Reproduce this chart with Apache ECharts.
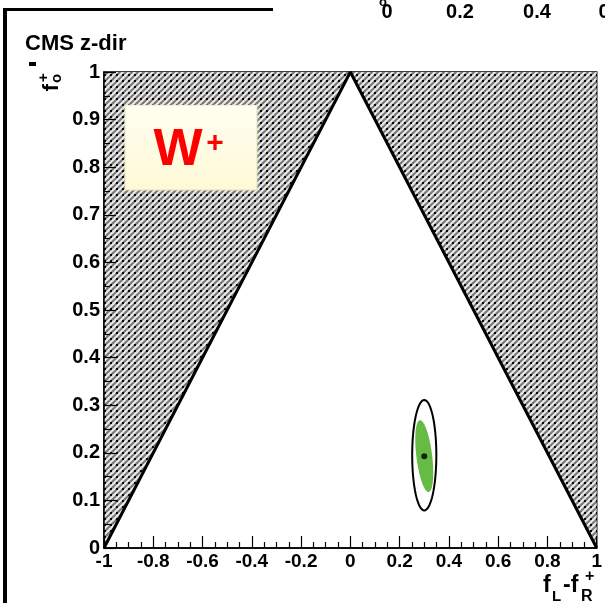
<!DOCTYPE html>
<html>
<head>
<meta charset="utf-8">
<script src="https://cdn.jsdelivr.net/npm/echarts@6/dist/echarts.min.js"></script>
<style>
  html, body { margin: 0; padding: 0; background: #fff; }
  #main { width: 605px; height: 603px; }
</style>
</head>
<body>
<div id="main"></div>
<script>
// 数据：物理允许区域外的阴影三角形、三角形边界、拟合结果
var leftHatch = [[-1, 0], [-1, 1], [0, 1]];
var rightHatch = [[0, 1], [1, 1], [1, 0]];
var triangleEdge = [[-1, 0], [0, 1], [1, 0]];
var fitPoint = [[0.30, 0.193]];
// cx, cy, rx, ry, tilt(deg)
var outerContour = [[0.30, 0.195, 0.049, 0.116, 0]];
var innerContour = [[0.30, 0.193, 0.032, 0.076, -7]];
var topTickLabels = ['0', '0.2', '0.4', '0'];

var myChart = echarts.init(document.getElementById('main'));

function makeHatch() {
    var c = document.createElement('canvas');
    c.width = 6; c.height = 6;
    var g = c.getContext('2d');
    g.fillStyle = '#ececec';
    g.fillRect(0, 0, 6, 6);
    g.strokeStyle = '#7a7a7a';
    g.lineWidth = 2.2;
    g.beginPath(); g.moveTo(-1, 7); g.lineTo(7, -1); g.stroke();
    g.beginPath(); g.moveTo(-1, 1); g.lineTo(1, -1); g.stroke();
    g.beginPath(); g.moveTo(5, 7); g.lineTo(7, 5); g.stroke();
    g.fillStyle = '#0a0a0a';
    g.fillRect(2, 2, 2, 2);
    return c;
}
var hatchFill = { image: makeHatch(), repeat: 'repeat' };

function polygonSeries(points) {
    return {
        type: 'custom',
        z: 1,
        silent: true,
        data: points,
        renderItem: function (params, api) {
            if (params.dataIndex !== 0) return;
            var pts = points.map(function (p) { return api.coord(p); });
            return {
                type: 'polygon',
                shape: { points: pts },
                style: { fill: hatchFill, stroke: null }
            };
        }
    };
}

function ellipseSeries(data, fill, stroke, lw) {
    return {
        type: 'custom',
        z: 4,
        silent: true,
        data: data,
        renderItem: function (params, api) {
            var c = api.coord([api.value(0), api.value(1)]);
            var s = api.size([api.value(2), api.value(3)]);
            var th = api.value(4) * Math.PI / 180;
            var pts = [];
            for (var i = 0; i < 72; i++) {
                var t = i / 72 * Math.PI * 2;
                var x = s[0] * Math.cos(t), y = s[1] * Math.sin(t);
                pts.push([c[0] + x * Math.cos(th) - y * Math.sin(th),
                          c[1] + x * Math.sin(th) + y * Math.cos(th)]);
            }
            return {
                type: 'polygon',
                shape: { points: pts },
                style: { fill: fill, stroke: stroke, lineWidth: lw }
            };
        }
    };
}

var boldFont = 'bold 20px "Liberation Sans", Arial, sans-serif';

var option = {
    animation: false,
    backgroundColor: '#fff',
    grid: {
        left: 104, right: 7, top: 72, bottom: 55,
        show: true, borderColor: '#000', borderWidth: 1.5
    },
    xAxis: {
        type: 'value', min: -1, max: 1, interval: 0.2, z: 5,
        axisLine: { show: true, onZero: false, lineStyle: { color: '#000', width: 1.5 } },
        axisTick: { show: true, inside: true, length: 12, lineStyle: { color: '#000', width: 1.2 } },
        minorTick: { show: true, splitNumber: 4, length: 6, lineStyle: { color: '#000', width: 1.2 } },
        splitLine: { show: false },
        axisLabel: {
            color: '#000', fontWeight: 'bold', fontSize: 19, margin: 4,
            fontFamily: '"Liberation Sans", Arial, sans-serif'
        }
    },
    yAxis: {
        type: 'value', min: 0, max: 1, interval: 0.1, z: 5,
        axisLine: { show: true, onZero: false, lineStyle: { color: '#000', width: 1.5 } },
        axisTick: { show: true, inside: true, length: 12, lineStyle: { color: '#000', width: 1.2 } },
        minorTick: { show: true, splitNumber: 2, length: 6, lineStyle: { color: '#000', width: 1.2 } },
        splitLine: { show: false },
        axisLabel: {
            color: '#000', fontWeight: 'bold', fontSize: 20, margin: 4,
            fontFamily: '"Liberation Sans", Arial, sans-serif'
        }
    },
    series: [
        polygonSeries(leftHatch),
        polygonSeries(rightHatch),
        {
            type: 'line', z: 3, silent: true,
            data: triangleEdge,
            symbol: 'none',
            lineStyle: { color: '#000', width: 3 }
        },
        ellipseSeries(outerContour, '#ffffff', '#000', 2),
        ellipseSeries(innerContour, '#66bb44', null, 0),
        {
            type: 'scatter', z: 6, silent: true,
            data: fitPoint,
            symbol: 'circle', symbolSize: 6,
            itemStyle: { color: '#000' }
        }
    ],
    graphic: [
        // 外框线
        { type: 'rect', shape: { x: 3, y: 8, width: 270, height: 3 }, style: { fill: '#000' } },
        { type: 'rect', shape: { x: 3, y: 8, width: 4, height: 600 }, style: { fill: '#000' } },
        { type: 'rect', shape: { x: 29, y: 62, width: 7, height: 4 }, style: { fill: '#000' } },
        {
            type: 'text', left: 25, top: 33,
            style: { text: 'CMS z-dir', font: 'bold 22px "Liberation Sans", Arial, sans-serif', fill: '#000' }
        },
        // 顶部被截断的坐标轴
        { type: 'text', x: 387, y: 12, style: { text: topTickLabels[0], font: boldFont, fill: '#000', align: 'center', verticalAlign: 'middle' } },
        { type: 'text', x: 460, y: 12, style: { text: topTickLabels[1], font: boldFont, fill: '#000', align: 'center', verticalAlign: 'middle' } },
        { type: 'text', x: 537, y: 12, style: { text: topTickLabels[2], font: boldFont, fill: '#000', align: 'center', verticalAlign: 'middle' } },
        { type: 'text', x: 604, y: 12, style: { text: topTickLabels[3], font: boldFont, fill: '#000', align: 'center', verticalAlign: 'middle' } },
        { type: 'text', x: 383, y: 2, style: { text: 'o', font: 'bold 13px "Liberation Sans", Arial, sans-serif', fill: '#000', align: 'center', verticalAlign: 'middle' } },
        // W+ 标签框
        {
            type: 'rect', z: 10,
            shape: { x: 125, y: 105, width: 132, height: 85 },
            style: {
                fill: new echarts.graphic.LinearGradient(0, 0, 0, 1, [
                    { offset: 0, color: '#fffff2' }, { offset: 1, color: '#fff9d6' }
                ]),
                stroke: '#e6e0b8', lineWidth: 1
            }
        },
        { type: 'text', z: 11, x: 178, y: 151, style: { text: 'W', font: 'bold 52px "Liberation Sans", Arial, sans-serif', fill: '#ff0000', align: 'center', verticalAlign: 'middle' } },
        { type: 'text', z: 11, x: 215, y: 144, style: { text: '+', font: 'bold 30px "Liberation Sans", Arial, sans-serif', fill: '#ff0000', align: 'center', verticalAlign: 'middle' } },
        // y 轴标题 f0+
        {
            type: 'group', x: 52, y: 84, rotation: Math.PI / 2,
            children: [
                { type: 'text', x: 0, y: 0, style: { text: 'f', font: 'bold 22px "Liberation Sans", Arial, sans-serif', fill: '#000', align: 'right', verticalAlign: 'middle' } },
                { type: 'text', x: 1, y: 5, style: { text: 'o', font: 'bold 15px "Liberation Sans", Arial, sans-serif', fill: '#000', align: 'left', verticalAlign: 'middle' } },
                { type: 'text', x: 2, y: -8, style: { text: '+', font: 'bold 15px "Liberation Sans", Arial, sans-serif', fill: '#000', align: 'left', verticalAlign: 'middle' } }
            ]
        },
        // x 轴标题 fL-fR+
        { type: 'text', x: 543, y: 586, style: { text: 'f', font: 'bold 23px "Liberation Sans", Arial, sans-serif', fill: '#000', align: 'left', verticalAlign: 'middle' } },
        { type: 'text', x: 552, y: 597, style: { text: 'L', font: 'bold 15px "Liberation Sans", Arial, sans-serif', fill: '#000', align: 'left', verticalAlign: 'middle' } },
        { type: 'text', x: 563, y: 586, style: { text: '-f', font: 'bold 23px "Liberation Sans", Arial, sans-serif', fill: '#000', align: 'left', verticalAlign: 'middle' } },
        { type: 'text', x: 581, y: 597, style: { text: 'R', font: 'bold 16px "Liberation Sans", Arial, sans-serif', fill: '#000', align: 'left', verticalAlign: 'middle' } },
        { type: 'text', x: 585, y: 577, style: { text: '+', font: 'bold 16px "Liberation Sans", Arial, sans-serif', fill: '#000', align: 'left', verticalAlign: 'middle' } }
    ]
};

myChart.setOption(option);
</script>
</body>
</html>
